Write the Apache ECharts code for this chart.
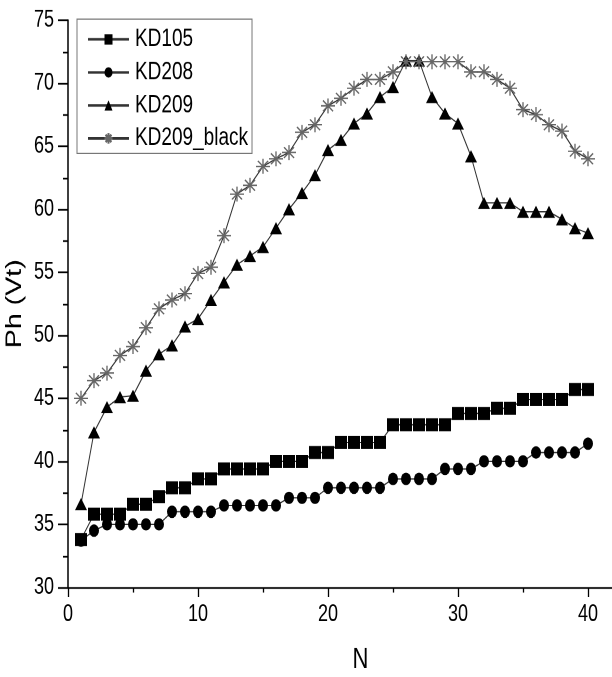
<!DOCTYPE html>
<html>
<head>
<meta charset="utf-8">
<script src="https://cdn.jsdelivr.net/npm/echarts@6/dist/echarts.min.js"></script>
<style>
  html, body { margin: 0; padding: 0; background: #fff; overflow: hidden; }
  #frame { width: 612px; height: 677px; overflow: hidden; }
  /* the figure is drawn on a 612x521 canvas and shown stretched to full height */
  #chart { width: 612px; height: 521px; transform: scaleY(1.2994); transform-origin: 0 0; }
</style>
</head>
<body>
<div id="frame"><div id="chart"></div></div>
<script>
// Cycle number N (1..40)
const cycles = Array.from({ length: 40 }, (_, i) => i + 1);

const kd105 = [33.8, 35.8, 35.8, 35.8, 36.6, 36.6, 37.2, 37.9, 37.9, 38.6,
               38.6, 39.4, 39.4, 39.4, 39.4, 40.0, 40.0, 40.0, 40.7, 40.7,
               41.5, 41.5, 41.5, 41.5, 42.9, 42.9, 42.9, 42.9, 42.9, 43.8,
               43.8, 43.8, 44.2, 44.2, 44.9, 44.9, 44.9, 44.9, 45.7, 45.7];

const kd208 = [33.7, 34.5, 35.0, 35.0, 35.0, 35.0, 35.0, 36.0, 36.0, 36.0,
               36.0, 36.5, 36.5, 36.5, 36.5, 36.5, 37.1, 37.1, 37.1, 37.9,
               37.9, 37.9, 37.9, 37.9, 38.6, 38.6, 38.6, 38.6, 39.4, 39.4,
               39.4, 40.0, 40.0, 40.0, 40.0, 40.7, 40.7, 40.7, 40.7, 41.4];

const kd209 = [36.6, 42.3, 44.3, 45.1, 45.2, 47.2, 48.5, 49.2, 50.7, 51.3,
               52.8, 54.2, 55.6, 56.3, 57.0, 58.5, 60.0, 61.3, 62.7, 64.7,
               65.5, 66.8, 67.6, 68.9, 69.7, 71.8, 71.8, 68.9, 67.6, 66.8,
               64.2, 60.5, 60.5, 60.5, 59.8, 59.8, 59.8, 59.2, 58.5, 58.1];

const kd209Black = [45.0, 46.4, 47.0, 48.4, 49.1, 50.6, 52.1, 52.8, 53.3, 54.9,
                    55.4, 57.9, 61.2, 61.9, 63.4, 64.0, 64.5, 66.1, 66.7, 68.2,
                    68.8, 69.6, 70.3, 70.3, 70.9, 71.7, 71.7, 71.7, 71.7, 71.7,
                    70.9, 70.9, 70.3, 69.6, 67.9, 67.5, 66.7, 66.2, 64.6, 64.0];

const seriesNames = ['KD105', 'KD208', 'KD209', 'KD209_black'];

const FONT = "'Liberation Sans', Arial, sans-serif";

// eight-armed asterisk marker
const asterisk = 'path://M0,-1L0,1M-1,0L1,0M-0.72,-0.72L0.72,0.72M-0.72,0.72L0.72,-0.72';

function pairs(values) {
  return cycles.map((n, i) => [n, values[i]]);
}

function lineSeries(name, values, symbol, size, itemStyle) {
  return {
    name: name,
    type: 'line',
    data: pairs(values),
    symbol: symbol,
    symbolSize: size,
    showAllSymbol: true,
    lineStyle: { color: '#333', width: 1 },
    itemStyle: itemStyle,
    emphasis: { disabled: true },
    z: 3
  };
}

const chart = echarts.init(document.getElementById('chart'), null,
  { renderer: 'canvas', devicePixelRatio: 2 });

chart.setOption({
  animation: false,
  backgroundColor: '#ffffff',
  grid: {
    left: 68, top: 15.5, bottom: 69, right: -41,
    containLabel: false,
    outerBoundsMode: 'none'
  },
  legend: {
    data: seriesNames,
    orient: 'vertical',
    left: 77,
    top: 14.8,
    padding: [6, 4, 2, 10],
    itemGap: 6.4,
    itemWidth: 41,
    itemHeight: 10,
    borderColor: '#777',
    borderWidth: 1,
    textStyle: { fontFamily: FONT, fontSize: 19, color: '#000', lineHeight: 19, padding: [0, 0, 0, 1] }
  },
  xAxis: {
    type: 'value',
    min: 0,
    max: 45,
    interval: 10,
    name: 'N',
    nameLocation: 'middle',
    nameGap: 45,
    nameTextStyle: { fontFamily: FONT, fontSize: 22, color: '#000' },
    axisLine: { show: true, onZero: false, lineStyle: { color: '#000', width: 1.3 } },
    axisTick: { show: true, inside: false, length: 7.5, lineStyle: { color: '#000', width: 1.3 } },
    minorTick: { show: true, splitNumber: 2, length: 4, lineStyle: { color: '#000', width: 1.3 } },
    axisLabel: { fontFamily: FONT, fontSize: 18, color: '#000', margin: 12, showMaxLabel: false },
    splitLine: { show: false }
  },
  yAxis: {
    type: 'value',
    min: 30,
    max: 75,
    interval: 5,
    name: 'Ph (Vt)',
    nameLocation: 'middle',
    nameRotate: 90,
    nameGap: 42,
    nameMoveOverlap: false,
    nameTextStyle: { fontFamily: FONT, fontSize: 22, color: '#000' },
    axisLine: { show: true, onZero: false, lineStyle: { color: '#000', width: 1.5 } },
    axisTick: { show: true, inside: false, length: 10, lineStyle: { color: '#000', width: 1.3 } },
    minorTick: { show: true, splitNumber: 2, length: 5, lineStyle: { color: '#000', width: 1.3 } },
    axisLabel: { fontFamily: FONT, fontSize: 18, color: '#000', margin: 14 },
    splitLine: { show: false }
  },
  series: [
    lineSeries('KD105', kd105, 'rect', [12, 10], { color: '#000' }),
    lineSeries('KD208', kd208, 'circle', [10, 9.6], { color: '#000' }),
    lineSeries('KD209', kd209, 'triangle', [12, 9.4], { color: '#000' }),
    lineSeries('KD209_black', kd209Black, asterisk, [14, 11.5],
      { color: 'rgba(0,0,0,0)', borderColor: '#666', borderWidth: 1.2 })
  ]
});
</script>
</body>
</html>
